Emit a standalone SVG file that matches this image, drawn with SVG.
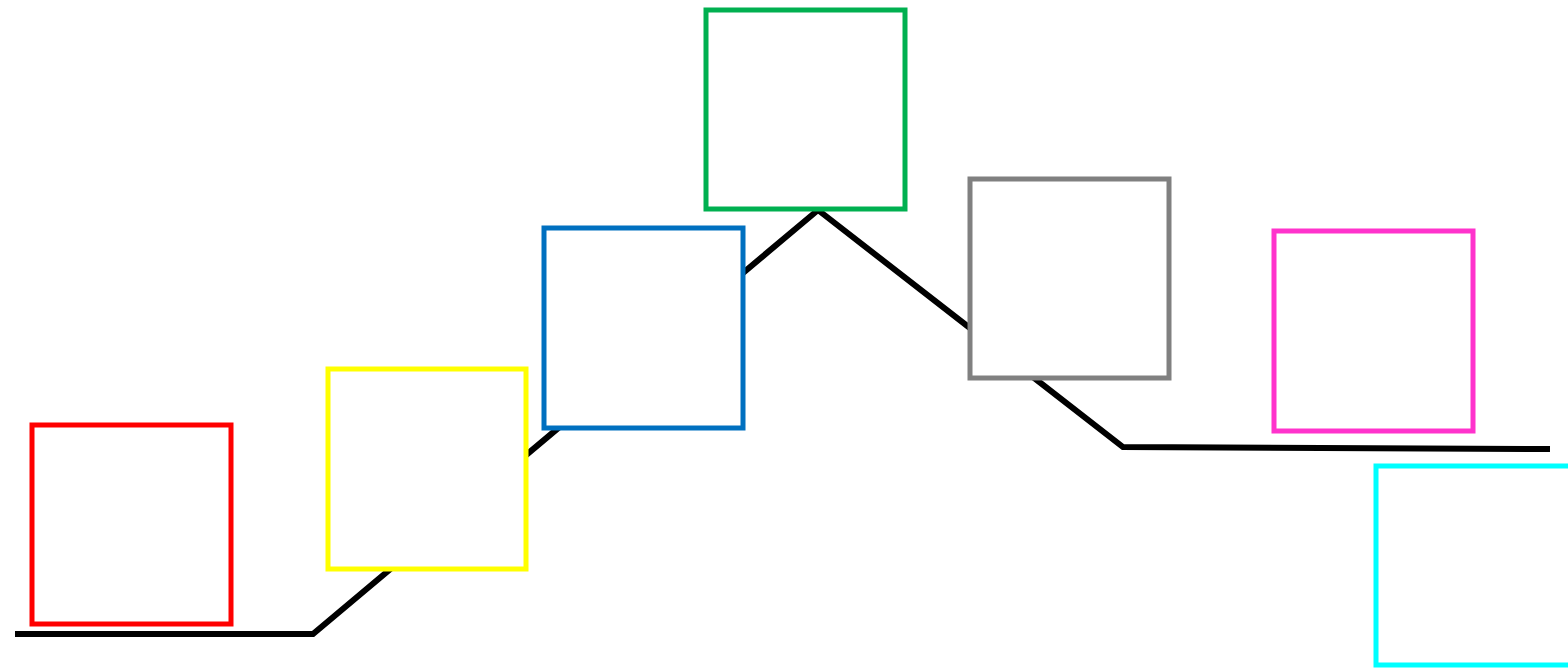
<svg xmlns="http://www.w3.org/2000/svg" width="1568" height="670" viewBox="0 0 1568 670">
<style>
.box{fill:#fff;stroke-width:5}
.conn{fill:none;stroke:#000;stroke-width:6;stroke-linejoin:miter}
</style>
<rect width="1568" height="670" fill="#fff"/>
<g id="connectors">
<polyline class="conn" points="15,634 313,634 818,210 1123,447 1550,449"/>
</g>
<g id="node-red"><rect class="box" x="32" y="425" width="199" height="199" stroke="#ff0000"/></g>
<g id="node-yellow"><rect class="box" x="328" y="369" width="198" height="200" stroke="#ffff00"/></g>
<g id="node-blue"><rect class="box" x="544" y="228" width="199" height="200" stroke="#0070c0"/></g>
<g id="node-green"><rect class="box" x="706" y="10" width="199" height="199" stroke="#00b050"/></g>
<g id="node-gray"><rect class="box" x="970" y="179" width="199" height="199" stroke="#808080"/></g>
<g id="node-magenta"><rect class="box" x="1274" y="231" width="199" height="200" stroke="#ff33cc"/></g>
<g id="node-cyan"><rect class="box" x="1376" y="466" width="199" height="199" stroke="#00ffff"/></g>
</svg>
